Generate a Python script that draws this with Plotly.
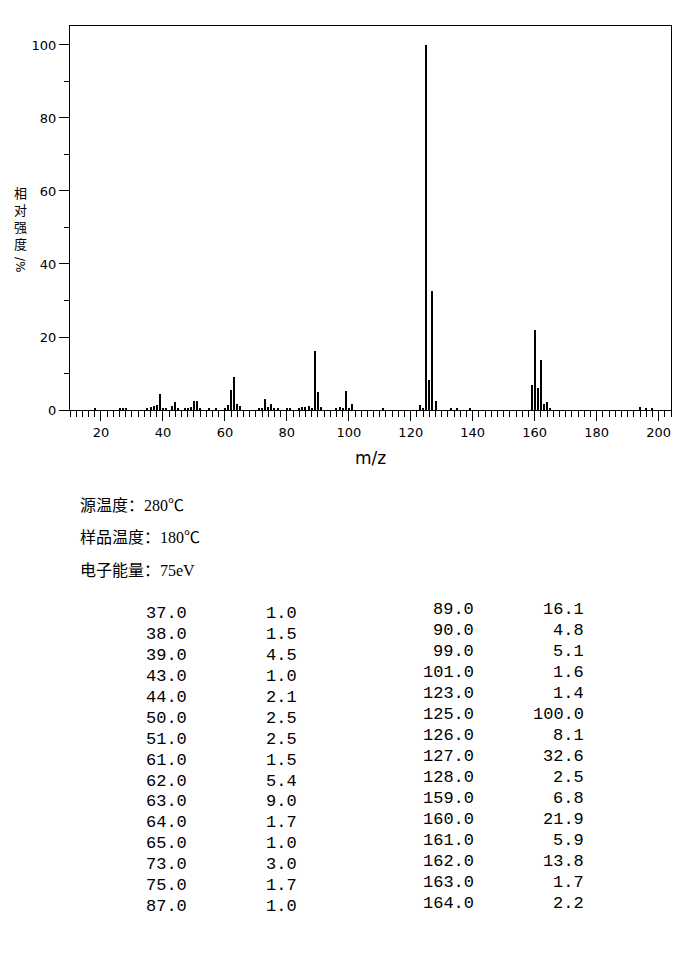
import plotly.graph_objects as go

# peak list (m/z, relative intensity %)
mz = [18, 26, 27, 28, 35, 36, 37, 38, 39, 40, 41, 43, 44, 45, 47, 48, 49, 50,
      51, 52, 55, 57, 60, 61, 62, 63, 64, 65, 71, 72, 73, 74, 75, 76, 77, 80,
      81, 84, 85, 86, 87, 88, 89, 90, 91, 96, 97, 98, 99, 100, 101, 111, 123,
      124, 125, 126, 127, 128, 133, 135, 139, 159, 160, 161, 162, 163, 164,
      165, 194, 196, 198]
intensity = [0.3, 0.5, 0.6, 0.6, 0.5, 0.9, 1.0, 1.5, 4.5, 0.5, 0.3, 1.0, 2.1,
             0.4, 0.3, 0.3, 0.7, 2.5, 2.5, 0.3, 0.3, 0.5, 0.3, 1.5, 5.4, 9.0,
             1.7, 1.0, 0.3, 0.3, 3.0, 0.8, 1.7, 0.3, 0.3, 0.3, 0.3, 0.4, 0.9,
             0.9, 1.0, 0.5, 16.1, 4.8, 0.8, 0.4, 0.9, 0.4, 5.1, 0.4, 1.6, 0.3,
             1.4, 0.5, 100.0, 8.1, 32.6, 2.5, 0.3, 0.3, 0.3, 6.8, 21.9, 5.9,
             13.8, 1.7, 2.2, 0.3, 0.9, 0.6, 0.5]

# tabulated peaks printed below the chart
table_mz = ["37.0", "38.0", "39.0", "43.0", "44.0", "50.0", "51.0", "61.0",
            "62.0", "63.0", "64.0", "65.0", "73.0", "75.0", "87.0",
            "89.0", "90.0", "99.0", "101.0", "123.0", "125.0", "126.0",
            "127.0", "128.0", "159.0", "160.0", "161.0", "162.0", "163.0",
            "164.0"]
table_int = ["1.0", "1.5", "4.5", "1.0", "2.1", "2.5", "2.5", "1.5", "5.4",
             "9.0", "1.7", "1.0", "3.0", "1.7", "1.0",
             "16.1", "4.8", "5.1", "1.6", "1.4", "100.0", "8.1", "32.6",
             "2.5", "6.8", "21.9", "5.9", "13.8", "1.7", "2.2"]

conditions = ["源温度：280℃", "样品温度：180℃", "电子能量：75eV"]
ylabel = "相<br>对<br>强<br>度"

# page body adds an 8px offset, so plot box edges are given in page pixels
OFF = 8
W, H = 689 - OFF, 964 - OFF
L, R, T, B = 70, 671, 26, 410


def px(x):
    return (x - L) / (R - L)


def py(y):
    return (B - y) / (B - T)


fig = go.Figure()
fig.add_trace(go.Bar(x=mz, y=intensity, width=0.32,
                     marker=dict(color="black", line=dict(width=0))))

tickfont = dict(family="DejaVu Sans", size=13, color="black")
fig.update_xaxes(range=[10, 204], tickvals=list(range(20, 201, 20)),
                 ticks="outside", ticklen=10, tickwidth=1, tickcolor="black",
                 minor=dict(dtick=2, ticks="outside", ticklen=6, tickwidth=1,
                            tickcolor="black"),
                 showline=True, linecolor="black", linewidth=1, mirror=True,
                 showgrid=False, zeroline=False, tickfont=tickfont)
fig.update_yaxes(range=[0, 105.2], tickvals=list(range(0, 101, 20)),
                 ticks="outside", ticklen=10, tickwidth=1, tickcolor="black",
                 minor=dict(dtick=10, ticks="outside", ticklen=5, tickwidth=1,
                            tickcolor="black"),
                 showline=True, linecolor="black", linewidth=1, mirror=True,
                 showgrid=False, zeroline=False, tickfont=tickfont)

ann = []
ann.append(dict(text="m/z", x=px(370), y=py(458), xanchor="center",
                font=dict(family="DejaVu Sans", size=17, color="black")))
ann.append(dict(text=ylabel, x=px(20), y=py(218), xanchor="center",
                font=dict(family="Noto Sans CJK SC", size=13, color="black")))
ann.append(dict(text="/%", x=px(20), y=py(264), xanchor="center", textangle=90,
                font=dict(family="DejaVu Sans", size=12, color="black")))

for i, line in enumerate(conditions):
    ann.append(dict(text=line, x=px(78), y=py(505 + 32.5 * i), xanchor="left",
                    font=dict(family="Liberation Serif, Noto Sans CJK SC",
                              size=16, color="black")))

mono = dict(family="Liberation Mono", size=17, color="black")
for i in range(len(table_mz)):
    if i < 15:
        y0, c1, c2, row = 613, 189, 299, i
    else:
        y0, c1, c2, row = 609, 476, 586, i - 15
    ann.append(dict(text=table_mz[i], x=px(c1), y=py(y0 + 21 * row),
                    xanchor="right", font=mono))
    ann.append(dict(text=table_int[i], x=px(c2), y=py(y0 + 21 * row),
                    xanchor="right", font=mono))

for a in ann:
    a.update(xref="paper", yref="paper", yanchor="middle", showarrow=False)

fig.update_layout(width=W, height=H,
                  margin=dict(l=L - OFF, r=W + OFF - R, t=T - OFF,
                              b=H + OFF - B),
                  plot_bgcolor="white", paper_bgcolor="white",
                  showlegend=False, bargap=0, annotations=ann)

fig.write_html("out.html")
